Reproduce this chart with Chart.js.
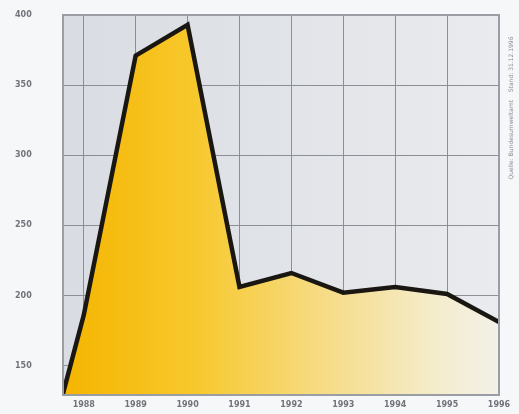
<!DOCTYPE html>
<html>
<head>
<meta charset="utf-8">
<script src="https://cdn.jsdelivr.net/npm/chart.js@4/dist/chart.umd.min.js"></script>
<style>
  html, body { margin: 0; padding: 0; background: #f6f7f8; }
  #wrap { width: 519px; height: 414px; position: relative; }
</style>
</head>
<body>
<div id="wrap"><canvas id="lineChart"></canvas></div>
<script>
  // values
  const years = [1987.6, 1988, 1989, 1990, 1991, 1992, 1993, 1994, 1995, 1996];
  const values = [130, 186, 371, 393, 206, 216, 202, 206, 201, 181];
  const yearTicks = [1988, 1989, 1990, 1991, 1992, 1993, 1994, 1995, 1996];
  const valueTicks = [150, 200, 250, 300, 350, 400];
  const sourceNote = 'Quelle: Bundesumweltamt    Stand: 31.12.1996';

  // gray plot background + side note
  const plotBg = {
    id: 'plotBg',
    beforeDraw(chart) {
      const { ctx, chartArea: a } = chart;
      const g = ctx.createLinearGradient(a.left, 0, a.right, 0);
      g.addColorStop(0, '#d9dce2');
      g.addColorStop(1, '#e9ebee');
      ctx.save();
      ctx.fillStyle = g;
      ctx.fillRect(a.left, a.top, a.right - a.left, a.bottom - a.top);
      ctx.restore();
    },
    afterDraw(chart) {
      const { ctx, chartArea: a } = chart;
      ctx.save();
      ctx.strokeStyle = '#9a9ea4';
      ctx.lineWidth = 2;
      ctx.strokeRect(a.left, a.top, a.right - a.left, a.bottom - a.top);
      ctx.translate(a.right + 12, 108);
      ctx.rotate(-Math.PI / 2);
      ctx.fillStyle = '#8a8d92';
      ctx.font = '6px "DejaVu Sans"';
      ctx.textAlign = 'center';
      ctx.textBaseline = 'middle';
      ctx.fillText(sourceNote, 0, 0);
      ctx.restore();
    }
  };

  const ctx = document.getElementById('lineChart').getContext('2d');
  new Chart(ctx, {
    type: 'line',
    data: {
      datasets: [{
        data: years.map((x, i) => ({ x: x, y: values[i] })),
        borderColor: '#1a1712',
        borderWidth: 4.5,
        borderJoinStyle: 'miter',
        pointRadius: 0,
        tension: 0,
        fill: 'start',
        backgroundColor: (c) => {
          const a = c.chart.chartArea;
          if (!a) return '#f5bb10';
          const g = c.chart.ctx.createLinearGradient(a.left, 0, a.right, 0);
          g.addColorStop(0, '#f5b500');
          g.addColorStop(0.3, '#f7c82c');
          g.addColorStop(0.6, '#f6dc86');
          g.addColorStop(0.85, '#f4eccb');
          g.addColorStop(1, '#f2f1e8');
          return g;
        }
      }]
    },
    options: {
      responsive: true,
      maintainAspectRatio: false,
      animation: false,
      layout: { padding: { top: 15, right: 20, bottom: 0, left: 15 } },
      scales: {
        x: {
          type: 'linear',
          min: 1987.6,
          max: 1996,
          afterBuildTicks: (s) => { s.ticks = yearTicks.map(v => ({ value: v })); },
          afterFit: (s) => { s.height = 19; },
          grid: { color: '#8c9096', lineWidth: 1, drawTicks: false },
          border: { display: false },
          ticks: {
            padding: 5,
            maxRotation: 0,
            color: '#70747a',
            font: { family: 'DejaVu Sans', size: 8, weight: 'bold' },
            callback: (v) => String(v)
          }
        },
        y: {
          min: 129,
          max: 400,
          afterBuildTicks: (s) => { s.ticks = valueTicks.map(v => ({ value: v })); },
          afterFit: (s) => { s.width = 48; },
          grid: { color: '#8c9096', lineWidth: 1, drawTicks: false },
          border: { display: false },
          ticks: {
            padding: 0,
            crossAlign: 'far',
            color: '#70747a',
            font: { family: 'DejaVu Sans', size: 8, weight: 'bold' }
          }
        }
      },
      plugins: {
        legend: { display: false },
        tooltip: { enabled: false }
      }
    },
    plugins: [plotBg]
  });
</script>
</body>
</html>
